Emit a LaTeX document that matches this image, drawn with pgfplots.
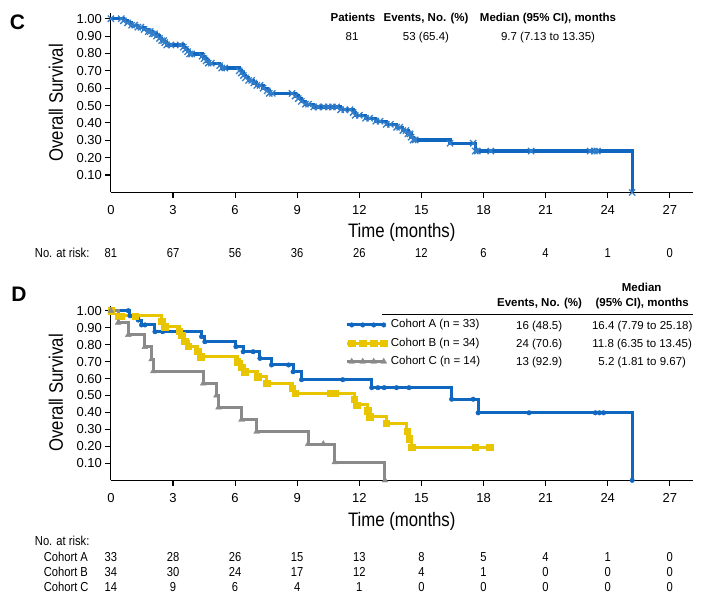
\documentclass[border=0pt]{standalone}
\usepackage{pgfplots}
\pgfplotsset{compat=1.18}
\usepackage{fontspec}
\setmainfont{Liberation Sans}
\newfontfamily\condfont[FakeStretch=0.86]{Liberation Sans}
\definecolor{cblue}{RGB}{16,103,192}
\definecolor{cyellow}{RGB}{233,197,0}
\definecolor{cgray}{RGB}{138,138,138}
\newcommand{\sm}{\fontsize{11.5}{13}\selectfont}
\newcommand{\rk}{\condfont\fontsize{13}{14}\selectfont}
\pgfplotsset{km/.style={scale only axis, width=581.7pt, xmin=0, xmax=28.1, ymin=0, ymax=1.03,
  axis lines*=left, axis line style={-, line width=1.1pt},
  xtick={3,6,...,27}, extra x ticks={0}, extra x tick style={tick style={draw=none}},
  ytick={0.1,0.2,0.3,0.4,0.5,0.6,0.7,0.8,0.9,1.0},
  tick align=outside, major tick length=5.5pt, tick style={line width=1.1pt, black},
  tick label style={font=\fontsize{13}{13}\selectfont},
  /pgf/number format/assume math mode=true,
  yticklabel style={/pgf/number format/.cd, fixed, fixed zerofill, precision=2},
  xticklabel style={yshift=-4pt},
  label style={font=\condfont\fontsize{19.5}{19.5}\selectfont},
  xlabel={Time (months)}, ylabel={Overall Survival}, clip=false}}
\begin{document}
\begin{tikzpicture}
\path[use as bounding box] (0,0) rectangle (701pt,595pt);
% ---------------- Panel C
\begin{axis}[km, height=178.9pt, at={(110.9pt,402.6pt)}, anchor=south west,
  xlabel style={at={(axis description cs:0.5,-0.2236)}, anchor=center},
  ylabel style={at={(axis description cs:-0.0946,0.5)}, anchor=center}]
\addplot[const plot, color=cblue, line width=3.2pt, mark=x, mark size=4.4pt, mark options={line width=1.3pt, solid, draw=cblue!85!white}] table {
t S
0 1.000
0.5 1.000
0.6 0.988
0.8 0.976
1.0 0.963
1.15 0.963
1.3 0.951
1.45 0.951
1.6 0.938
1.8 0.926
1.9 0.926
2.0 0.913
2.1 0.913
2.2 0.900
2.35 0.887
2.45 0.874
2.55 0.874
2.6 0.862
2.7 0.849
2.9 0.849
3.35 0.849
3.5 0.836
3.6 0.823
3.7 0.810
3.8 0.797
3.9 0.797
4.4 0.784
4.5 0.770
4.6 0.757
4.7 0.744
4.85 0.744
5.25 0.730
5.35 0.716
5.5 0.716
6.2 0.700
6.3 0.687
6.4 0.673
6.5 0.660
6.65 0.645
6.8 0.645
6.9 0.630
7.05 0.616
7.2 0.616
7.35 0.600
7.55 0.585
7.65 0.570
7.8 0.570
8.75 0.570
8.9 0.555
9.05 0.540
9.2 0.524
9.4 0.508
9.55 0.508
9.8 0.492
10.0 0.492
10.3 0.492
10.5 0.492
10.7 0.492
10.9 0.492
11.1 0.476
11.3 0.476
11.55 0.476
11.7 0.460
11.8 0.444
12.0 0.444
12.3 0.427
12.5 0.427
12.8 0.410
13.0 0.410
13.3 0.392
13.5 0.392
13.8 0.375
13.95 0.375
14.1 0.356
14.25 0.356
14.35 0.337
14.45 0.337
14.5 0.318
14.6 0.302
14.7 0.302
16.38 0.283
17.5 0.283
17.6 0.238
17.7 0.238
18.35 0.238
20.3 0.238
23.15 0.238
23.35 0.238
23.5 0.238
25.18 0
};
\end{axis}
% ---------------- Panel D
\begin{axis}[km, height=174.7pt, at={(110.9pt,114.7pt)}, anchor=south west,
  xlabel style={at={(axis description cs:0.5,-0.237)}, anchor=center},
  ylabel style={at={(axis description cs:-0.0946,0.5)}, anchor=center},
  legend style={draw=none, fill=none, at={(axis cs:11.31,0.808)}, anchor=west, inner sep=0pt,
    row sep=7.3pt, font=\sm, nodes={inner sep=0pt, text height=8.3pt, text depth=2.7pt},
    /tikz/every odd column/.append style={column sep=4pt}},
  legend cell align=left,
  legend image code/.code={\draw[mark repeat=1, mark phase=2] plot coordinates {(0pt,0pt)(5pt,0pt)(16pt,0pt)(27pt,0pt)(37pt,0pt)};}]
\addplot[const plot, color=cblue, line width=3pt, mark=*, mark size=2.3pt, mark options={solid, line width=0.4pt}] table {
t S
0 1.0
0.84 1.0
0.92 0.970
1.32 0.945
1.48 0.916
1.65 0.916
2.13 0.876
2.5 0.876
4.38 0.847
4.54 0.817
6.04 0.788
6.39 0.758
6.87 0.758
7.2 0.719
7.76 0.68
8.58 0.68
8.8 0.64
9.21 0.593
11.2 0.593
12.6 0.546
12.9 0.546
13.2 0.546
13.8 0.546
14.4 0.546
16.46 0.478
17.5 0.478
17.74 0.398
20.2 0.398
23.4 0.398
23.6 0.398
23.8 0.398
25.18 0
};
\addlegendentry{Cohort A (n = 33)}
\addplot[const plot, color=cyellow, line width=3pt, mark=square*, mark size=3.2pt, mark options={solid, line width=0.4pt}] table {
t S
0 1.0
0.35 0.969
0.5 0.969
1.16 0.969
2.45 0.937
2.6 0.906
3.3 0.88
3.42 0.855
3.57 0.82
3.74 0.79
4.2 0.76
4.33 0.729
6.1 0.70
6.31 0.668
6.47 0.64
7.1 0.61
7.52 0.573
8.75 0.543
8.89 0.513
10.58 0.513
10.82 0.513
11.75 0.478
11.87 0.444
12.4 0.41
12.5 0.376
13.3 0.337
14.3 0.29
14.4 0.245
14.53 0.195
17.6 0.195
18.3 0.195
};
\addlegendentry{Cohort B (n = 34)}
\addplot[const plot, color=cgray, line width=3pt, mark=triangle*, mark size=3.4pt, mark options={solid, line width=0.4pt}] table {
t S
0 1.0
0.35 0.929
0.84 0.857
1.64 0.786
1.97 0.714
2.05 0.643
4.46 0.571
5.1 0.5
5.2 0.429
6.31 0.357
7.04 0.286
9.53 0.214
10.26 0.214
10.82 0.107
13.24 0
};
\addlegendentry{Cohort C (n = 14)}
\end{axis}
% ---------------- Texts
\node[font=\fontsize{21}{21}\selectfont\bfseries] at (17.5pt,572.5pt) {C};
\node[font=\fontsize{21}{21}\selectfont\bfseries] at (19pt,301pt) {D};
\begin{scope}[every node/.style={font=\sm, anchor=base}]
\node at (353pt,573.8pt) {\bfseries Patients};
\node at (426pt,573.8pt) {\bfseries Events, No. (\%)};
\node at (548pt,573.8pt) {\bfseries Median (95\% CI), months};
\node at (352pt,554.8pt) {81};
\node at (426pt,554.8pt) {53 (65.4)};
\node at (548pt,554.8pt) {9.7 (7.13 to 13.35)};
\node at (641.7pt,303.6pt) {\bfseries Median};
\node at (642.2pt,288.6pt) {\bfseries (95\% CI), months};
\node at (539.5pt,288.6pt) {\bfseries Events, No. (\%)};
\node at (539.2pt,265.9pt) {16 (48.5)};
\node at (642.2pt,265.9pt) {16.4 (7.79 to 25.18)};
\node at (539.2pt,247.6pt) {24 (70.6)};
\node at (642.2pt,247.6pt) {11.8 (6.35 to 13.45)};
\node at (539.2pt,229.2pt) {13 (92.9)};
\node at (642.2pt,229.2pt) {5.2 (1.81 to 9.67)};
\end{scope}
\begin{scope}[every node/.style={font=\rk, anchor=base}]
\node[anchor=base west] at (31.4pt,337.3pt) {No. at risk:};
\foreach \v [count=\i from 0] in {81,67,56,36,26,12,6,4,1,0}
  \node at ({110.9pt+\i*62.1pt},337.3pt) {\v};
\node[anchor=base west] at (31.4pt,49.3pt) {No. at risk:};
\node[anchor=base west] at (40.3pt,33.7pt) {Cohort A};
\node[anchor=base west] at (40.3pt,18.7pt) {Cohort B};
\node[anchor=base west] at (40.3pt,3.3pt) {Cohort C};
\foreach \v [count=\i from 0] in {33,28,26,15,13,8,5,4,1,0}
  \node at ({110.9pt+\i*62.1pt},33.7pt) {\v};
\foreach \v [count=\i from 0] in {34,30,24,17,12,4,1,0,0,0}
  \node at ({110.9pt+\i*62.1pt},18.7pt) {\v};
\foreach \v [count=\i from 0] in {14,9,6,4,1,0,0,0,0,0}
  \node at ({110.9pt+\i*62.1pt},3.3pt) {\v};
\end{scope}
\draw[line width=0.8pt] (381.7pt,280.7pt) -- (692.7pt,280.7pt);
\end{tikzpicture}
\end{document}
